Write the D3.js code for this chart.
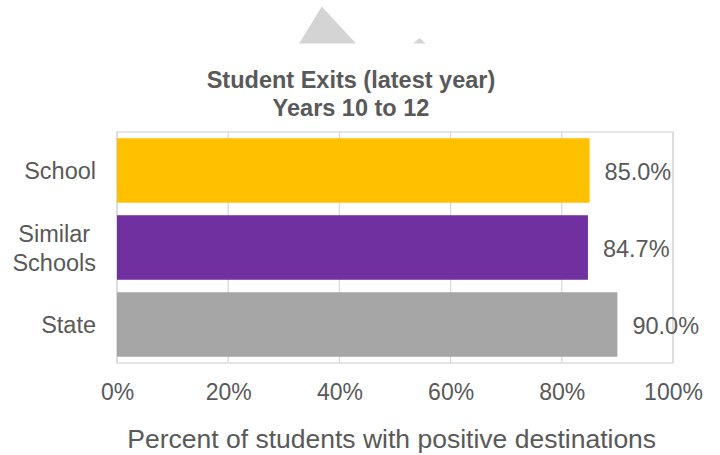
<!DOCTYPE html>
<html>
<head>
<meta charset="utf-8">
<script src="https://cdn.jsdelivr.net/npm/d3@7"></script>
<style>
  html, body { margin: 0; padding: 0; background: #fff; }
  svg text { font-family: "Liberation Sans", Arial, sans-serif; fill: #595959; }
</style>
</head>
<body>
<svg id="chart"></svg>
<script>
// chart data
const categories = [['School'], ['Similar', 'Schools'], ['State']];
const values = [0.850, 0.847, 0.900];
const barColors = ['#FFC000', '#7030A0', '#A6A6A6'];
const tickValues = [0, 0.2, 0.4, 0.6, 0.8, 1.0];
const titleLines = ['Student Exits (latest year)', 'Years 10 to 12'];
const axisTitle = 'Percent of students with positive destinations';

const width = 720, height = 455;
const plot = {left: 117, right: 673, top: 132, bottom: 363};

const svg = d3.select('svg#chart')
    .attr('width', width)
    .attr('height', height);

// grey logo peeking out above the chart
svg.append('clipPath').attr('id', 'logoClip')
    .append('rect').attr('x', 0).attr('y', 0).attr('width', width).attr('height', 43.5);
const logo = svg.append('g').attr('clip-path', 'url(#logoClip)').attr('fill', '#D4D4D4');
logo.append('polygon').attr('points', '321.7,6.5 294,52 364,52');
logo.append('polygon').attr('points', '419.5,38 408,48 431,48');

const x = d3.scaleLinear()
    .domain([0, 1])
    .range([plot.left, plot.right]);

const y = d3.scaleBand()
    .domain(d3.range(categories.length))
    .range([plot.top, plot.bottom])
    .paddingInner(0.162)
    .paddingOuter(0.081);

// gridlines
svg.append('g')
    .selectAll('line')
    .data(tickValues)
    .join('line')
    .attr('x1', d => x(d)).attr('x2', d => x(d))
    .attr('y1', plot.top).attr('y2', plot.bottom)
    .attr('stroke', '#D9D9D9')
    .attr('stroke-width', 1.3);

// plot border
svg.append('rect')
    .attr('x', plot.left).attr('y', plot.top)
    .attr('width', plot.right - plot.left)
    .attr('height', plot.bottom - plot.top)
    .attr('fill', 'none')
    .attr('stroke', '#D9D9D9')
    .attr('stroke-width', 1.3);

// bars
svg.append('g')
    .selectAll('rect')
    .data(values)
    .join('rect')
    .attr('x', x(0))
    .attr('y', (d, i) => y(i))
    .attr('width', d => x(d) - x(0))
    .attr('height', y.bandwidth())
    .attr('fill', (d, i) => barColors[i]);

// data labels
svg.append('g')
    .selectAll('text')
    .data(values)
    .join('text')
    .attr('x', d => x(d) + 15)
    .attr('y', (d, i) => y(i) + y.bandwidth() / 2 + 9)
    .style('font-size', '23.5px')
    .text(d => d3.format('.1%')(d));

// category labels, right aligned block, lines centred in block
const catG = svg.append('g');
categories.forEach((lines, i) => {
    const cy = y(i) + y.bandwidth() / 2;
    const t = catG.append('text')
        .style('font-size', '23.5px')
        .attr('text-anchor', 'middle');
    lines.forEach((line, j) => {
        t.append('tspan')
            .attr('y', cy + 8.8 + (j - (lines.length - 1) / 2) * 28.4)
            .text(line);
    });
    let w = 0;
    t.selectAll('tspan').each(function () { w = Math.max(w, this.getComputedTextLength()); });
    t.selectAll('tspan').attr('x', 96 - w / 2);
});

// x axis tick labels
const xAxis = svg.append('g')
    .attr('transform', `translate(0,${plot.bottom})`)
    .call(d3.axisBottom(x).tickValues(tickValues).tickFormat(d3.format('.0%')).tickSize(0).tickPadding(0));
xAxis.select('.domain').remove();
xAxis.selectAll('text')
    .attr('dy', null)
    .attr('y', 37)
    .style('font-size', '23px')
    .style('font-family', '"Liberation Sans", Arial, sans-serif')
    .attr('fill', '#595959');

// axis title
svg.append('text')
    .attr('x', 391.7)
    .attr('y', 448)
    .attr('text-anchor', 'middle')
    .style('font-size', '26.5px')
    .text(axisTitle);

// chart title
svg.append('g')
    .selectAll('text')
    .data(titleLines)
    .join('text')
    .attr('x', 351)
    .attr('y', (d, i) => 87.5 + i * 28)
    .attr('text-anchor', 'middle')
    .style('font-size', '23.5px')
    .style('font-weight', 'bold')
    .text(d => d);
</script>
</body>
</html>
